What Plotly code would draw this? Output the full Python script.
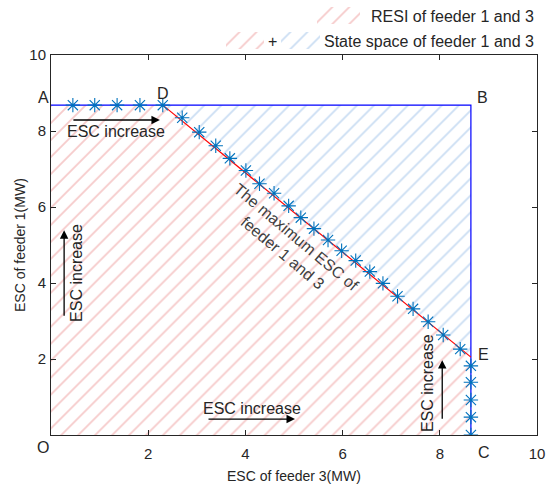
import plotly.graph_objects as go

# ---------------- data ----------------
feeder3_max = 8.64          # C (MW)
feeder1_max = 8.68          # A (MW)
point_D = (2.30, 8.68)
point_E = (8.64, 2.05)

top_x = [0.45, 0.90, 1.36, 1.83, 2.30]
diag_x = [2.70, 3.05, 3.39, 3.68, 4.01, 4.29, 4.59, 4.89, 5.14, 5.41,
          5.70, 5.98, 6.27, 6.56, 6.83, 7.13, 7.45, 7.76, 8.07, 8.42]
diag_y = [8.35, 7.97, 7.61, 7.28, 6.96, 6.61, 6.36, 6.03, 5.72, 5.43,
          5.13, 4.85, 4.59, 4.30, 3.99, 3.65, 3.32, 2.98, 2.63, 2.26]
right_y = [1.82, 1.39, 0.92, 0.47, 0.00]

tick_vals = [2, 4, 6, 8, 10]
tick_text = ["2", "4", "6", "8", "10"]

legend_names = ["RESI of feeder 1 and 3", "State space of feeder 1 and 3"]

# ---------------- styling ----------------
W, H = 550, 488
PL, PR, PT, PB = 51, 537, 55, 435          # plot area in pixels
FONT = "Liberation Sans, Arial, sans-serif"
TXT = "#262626"
RED_H = "#f6caca"
BLUE_H = "#cbdef3"
MK = "#0072BD"
HATCH = 12
SOL = 0.15

def pat(c):
    return dict(shape="/", fgcolor=c, bgcolor="rgba(255,255,255,0)", size=HATCH, solidity=SOL)

fig = go.Figure()

# RESI region (below the max-ESC line)
fig.add_trace(go.Scatter(
    x=[0, 0, point_D[0], point_E[0], feeder3_max],
    y=[0, feeder1_max, point_D[1], point_E[1], 0],
    fill="toself", mode="none", fillcolor="rgba(0,0,0,0)", fillpattern=pat(RED_H),
    showlegend=False, hoverinfo="skip"))

# State-space triangle (above the line)
fig.add_trace(go.Scatter(
    x=[point_D[0], feeder3_max, point_E[0]],
    y=[point_D[1], feeder1_max, point_E[1]],
    fill="toself", mode="none", fillcolor="rgba(0,0,0,0)", fillpattern=pat(BLUE_H),
    showlegend=False, hoverinfo="skip"))

# boundary A-B-C
fig.add_trace(go.Scatter(
    x=[0, feeder3_max, feeder3_max], y=[feeder1_max, feeder1_max, 0],
    mode="lines", line=dict(color="#0000FF", width=1.2), showlegend=False, hoverinfo="skip"))

# max ESC line D-E
fig.add_trace(go.Scatter(
    x=[point_D[0], point_E[0]], y=[point_D[1], point_E[1]],
    mode="lines", line=dict(color="#FF0000", width=1.2), showlegend=False, hoverinfo="skip"))

# markers
mk = dict(symbol="asterisk-open", size=12, color=MK, line=dict(color=MK, width=1.1))
fig.add_trace(go.Scatter(x=top_x, y=[feeder1_max] * len(top_x), mode="markers",
                         marker=mk, showlegend=False))
fig.add_trace(go.Scatter(x=diag_x, y=diag_y, mode="markers", marker=mk, showlegend=False))
fig.add_trace(go.Scatter(x=[feeder3_max] * len(right_y), y=right_y, mode="markers",
                         marker=mk, showlegend=False))

# ---------------- legend (drawn on a pixel-space overlay axis) ----------------
for xs, ys, c in [([317, 360, 360, 317], [7, 7, 24, 24], RED_H),
                  ([226, 264, 264, 226], [32, 32, 49, 49], RED_H),
                  ([281, 320, 320, 281], [32, 32, 49, 49], BLUE_H)]:
    fig.add_trace(go.Scatter(x=xs, y=ys, xaxis="x2", yaxis="y2", fill="toself", mode="none",
                             fillcolor="rgba(0,0,0,0)", fillpattern=pat(c),
                             showlegend=False, hoverinfo="skip"))

ann = []
f16 = dict(family=FONT, size=16, color=TXT)
f14 = dict(family=FONT, size=14, color=TXT)

ann.append(dict(xref="x2", yref="y2", x=536, y=16, text=legend_names[0], showarrow=False,
                xanchor="right", yanchor="middle", font=f16))
ann.append(dict(xref="x2", yref="y2", x=536, y=41, text=legend_names[1], showarrow=False,
                xanchor="right", yanchor="middle", font=f16))
ann.append(dict(xref="x2", yref="y2", x=272, y=41, text="+", showarrow=False,
                xanchor="center", yanchor="middle", font=f16))

# point letters
letters = [
    ("A", 0, feeder1_max, -8, 8),
    ("D", point_D[0], point_D[1], 0, 12),
    ("B", feeder3_max, feeder1_max, 12, 8),
    ("E", point_E[0], point_E[1], 13, 3),
    ("C", feeder3_max, 0, 13, -17),
    ("O", 0, 0, -8, -12),
]
for t, x, y, dx, dy in letters:
    ann.append(dict(x=x, y=y, text=t, showarrow=False, xshift=dx, yshift=dy,
                    xanchor="center", yanchor="middle", font=f16))

# arrows
def arrow(x0, y0, x1, y1):
    ann.append(dict(x=x1, y=y1, ax=x0, ay=y0, xref="x", yref="y", axref="x", ayref="y",
                    text="", showarrow=True, arrowhead=2, arrowsize=1.3, arrowwidth=1.3,
                    arrowcolor="#000000"))

arrow(0.43, 8.29, 2.24, 8.29)
arrow(0.27, 3.10, 0.27, 5.39)
arrow(3.21, 0.42, 5.02, 0.42)
arrow(8.05, 0.39, 8.05, 1.97)

ann.append(dict(x=1.34, y=8.0, text="ESC increase", showarrow=False, font=f16))
ann.append(dict(x=0.51, y=4.26, text="ESC increase", showarrow=False, textangle=-90, font=f16))
ann.append(dict(x=4.14, y=0.71, text="ESC increase", showarrow=False, font=f16))
ann.append(dict(x=7.76, y=1.37, text="ESC increase", showarrow=False, textangle=-90, font=f16))

ann.append(dict(x=4.9, y=5.0, text="The maximum ESC of<br>feeder 1 and 3", showarrow=False,
                textangle=40, align="center", font=dict(family=FONT, size=16, color="#404040")))

# axis titles
ann.append(dict(xref="paper", yref="paper", x=(PL + PR) / 2 / W, y=1 - 476 / H,
                text="ESC of feeder 3(MW)", showarrow=False, xanchor="center", yanchor="middle",
                font=f14))
ann.append(dict(xref="paper", yref="paper", x=20 / W, y=1 - 245 / H,
                text="ESC of feeder 1(MW)", showarrow=False, textangle=-90,
                xanchor="center", yanchor="middle", font=f14))

axis_common = dict(range=[0, 10], tickvals=tick_vals, ticktext=tick_text, ticks="inside",
                   ticklen=5, tickwidth=1, tickcolor=TXT, showline=True, linecolor=TXT,
                   linewidth=1, mirror="ticks", showgrid=False, zeroline=False,
                   automargin=False,
                   tickfont=dict(family=FONT, size=15, color=TXT), fixedrange=True)

fig.update_layout(
    template="none",
    width=W, height=H,
    margin=dict(l=0, r=0, t=0, b=0, pad=0, autoexpand=False),
    paper_bgcolor="white", plot_bgcolor="rgba(0,0,0,0)",
    xaxis=dict(domain=[PL / W, PR / W], anchor="y", ticklabelstandoff=5, **axis_common),
    yaxis=dict(domain=[1 - PB / H, 1 - PT / H], anchor="x", ticklabelstandoff=1, **axis_common),
    xaxis2=dict(domain=[0, 1], range=[0, W], anchor="y2", visible=False, fixedrange=True,
                automargin=False),
    yaxis2=dict(domain=[0, 1], range=[H, 0], anchor="x2", visible=False, fixedrange=True,
                automargin=False),
    annotations=ann,
    showlegend=False,
)

fig.write_html("out.html", config={"displayModeBar": False, "staticPlot": True},
               post_script="document.body.style.margin='0';")
